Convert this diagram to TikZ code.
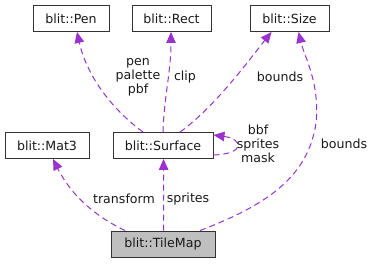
\documentclass[tikz,border=0pt]{standalone}
\usepackage{fontspec}
\setmainfont{DejaVu Sans}
\usetikzlibrary{arrows.meta}
\definecolor{edgecol}{HTML}{9A32CD}
\definecolor{boxline}{HTML}{333333}
\definecolor{focusfill}{HTML}{BFBFBF}
\tikzset{
  cls/.style={draw=boxline, line width=0.9pt, fill=white, minimum height=26pt,
    inner sep=0pt, font=\fontsize{12.6}{14}\selectfont, text=black!90},
  focus/.style={cls, fill=focusfill},
  usage/.style={draw=edgecol, line width=1pt, dash pattern=on 6pt off 4pt,
    -{Triangle[length=11pt,width=9.5pt]}},
  lbl/.style={font=\fontsize{12.6}{14}\selectfont, align=center, inner sep=0pt, text=black!90},
}
\begin{document}
\begin{tikzpicture}[x=1pt,y=1pt]
\useasboundingbox (0,0) rectangle (374,263);

% classes
\node[cls, minimum width=76pt] (pen)  at (71,244.5)    {blit::Pen};
\node[cls, minimum width=79pt] (rect) at (171.5,244.5) {blit::Rect};
\node[cls, minimum width=79pt] (size) at (289.5,244.5) {blit::Size};
\node[cls, minimum width=84pt] (mat)  at (47,117.5)    {blit::Mat3};
\node[cls, minimum width=100pt] (surf) at (163,117.5)  {blit::Surface};
\node[focus, minimum width=104pt] (tile) at (163,19)   {blit::TileMap};

% Surface members
\draw[usage] ([xshift=-20pt]surf.north) .. controls +(-30,22) and +(10,-45) .. ([xshift=6pt]pen.south);
\draw[usage] (surf.north) .. controls +(1,35) and +(0,-40) .. ([xshift=-0.5pt]rect.south);
\draw[usage] ([xshift=17pt]surf.north) .. controls +(35,25) and +(-20,-25) .. ([xshift=-18pt]size.south);
\draw[usage] ([yshift=-9.5pt]surf.east) .. controls +(32,1) and +(30,-4) .. ([yshift=10.5pt]surf.east);

% TileMap members
\draw[usage] ([xshift=0.5pt]tile.north) .. controls +(0.3,25) and +(0.3,-25) .. ([xshift=0.5pt]surf.south);
\draw[usage] ([xshift=-38pt]tile.north) .. controls +(-25,12) and +(20,-40) .. ([xshift=6pt]mat.south);
\draw[usage] ([xshift=37pt]tile.north) .. controls +(65,25) and +(-8,-55) .. (316,140)
  .. controls +(4,40) and +(6,-25) .. ([xshift=9pt]size.south);

% labels
\node[lbl] (lpen)   at (138,186) {pen\\palette\\pbf};
\node[lbl] (lclip)  at (185,186) {clip};
\node[lbl] (lbnd)   at (280,186) {bounds};
\node[lbl] (lself)  at (258,119) {bbf\\sprites\\mask};
\node[lbl] (lbnd2)  at (344,119) {bounds};
\node[lbl] (ltrans) at (124,64)  {transform};
\node[lbl] (lspr)   at (188,64)  {sprites};
\end{tikzpicture}
\end{document}
